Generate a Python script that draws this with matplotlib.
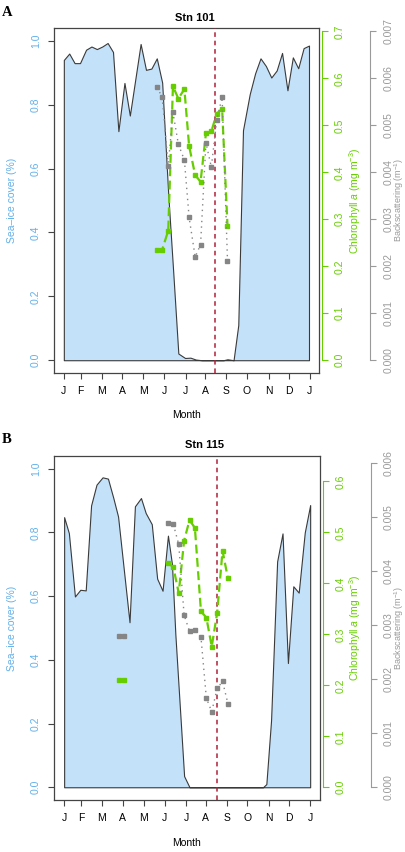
import numpy as np
import matplotlib.pyplot as plt

plt.rcParams['font.family'] = ['Liberation Sans', 'DejaVu Sans']
plt.rcParams['mathtext.fontset'] = 'custom'
plt.rcParams['mathtext.rm'] = 'Liberation Sans'
plt.rcParams['mathtext.it'] = 'Liberation Sans:italic'

# month ticks, as day of year
month_pos = [0, 25, 56, 87, 118, 149, 181, 210, 241, 272, 304, 334, 365]
month_lab = ['J', 'F', 'M', 'A', 'M', 'J', 'J', 'A', 'S', 'O', 'N', 'D', 'J']

# Stn 101
ice101_day = [0, 8, 16, 24, 33, 41, 49, 57, 65, 73, 81, 90, 98, 114, 122, 130, 138, 146, 155, 162,
              170, 180, 188, 196, 205, 213, 221, 229, 237, 243, 252, 259, 266, 276, 284, 292, 300, 308,
              316, 324, 332, 340, 348, 356, 364]
ice101 = [0.94, 0.96, 0.93, 0.93, 0.972, 0.982, 0.974, 0.982, 0.993, 0.965, 0.717, 0.868, 0.766, 0.99,
          0.909, 0.913, 0.945, 0.869, 0.52, 0.29, 0.021, 0.007, 0.008, 0.002, 0.0, 0.0, 0.0, 0.0, 0.0,
          0.003, 0.0, 0.11, 0.72, 0.833, 0.898, 0.945, 0.921, 0.885, 0.907, 0.962, 0.845, 0.948, 0.914,
          0.977, 0.985]
chl101_day = [138, 146, 155, 162, 170, 179, 186, 195, 203, 211, 219, 227, 235, 243]
chl101 = [0.235, 0.235, 0.276, 0.583, 0.557, 0.577, 0.456, 0.394, 0.380, 0.483, 0.487, 0.525, 0.535, 0.286]
bb101 = [0.00581, 0.00561, 0.00414, 0.00528, 0.00460, 0.00426, 0.00304, 0.00220, 0.00246, 0.00463,
         0.00411, 0.00511, 0.00560, 0.00212]
melt101 = 224

# Stn 115
ice115_day = [0, 7, 16, 24, 32, 40, 48, 57, 65, 73, 80, 97, 105, 114, 121, 130, 138, 146, 154, 160,
              165, 178, 186, 295, 300, 307, 316, 324, 332, 340, 348, 357, 365]
ice115 = [0.848, 0.798, 0.599, 0.62, 0.618, 0.885, 0.95, 0.973, 0.969, 0.908, 0.85, 0.518, 0.882, 0.908,
          0.861, 0.826, 0.655, 0.617, 0.79, 0.70, 0.48, 0.035, 0.0, 0.0, 0.01, 0.21, 0.709, 0.797, 0.39,
          0.631, 0.611, 0.80, 0.886]
chl115_day = [81, 89, 120, 154, 162, 170, 178, 186, 194, 203, 211, 219, 227, 235, 243]
chl115 = [0.211, 0.211, np.nan, 0.440, 0.432, 0.381, 0.484, 0.524, 0.509, 0.345, 0.333, 0.276, 0.342,
          0.464, 0.410]
bb115 = [0.0028, 0.0028, np.nan, 0.00489, 0.00487, 0.00450, 0.00319, 0.00289, 0.00292, 0.00278, 0.00165,
         0.00140, 0.00183, 0.00196, 0.00155]
melt115 = 227

ice_col = '#c4e1fa'
blue = '#62b0ea'
green = '#66cd00'
grey = '#858585'
lgrey = '#9a9a9a'
red = '#b0203a'

twins = []


def pad4(lo, hi):
    d = (hi - lo) * 0.04
    return lo - d, hi + d


def right_axis(ax, col, ymax, top, step, fmt, outward, tlen):
    a = ax.twinx()
    a.set_ylim(pad4(0, ymax))
    ticks = np.round(np.arange(0, top + 1e-9, step), 4)
    a.set_yticks(ticks)
    a.set_yticklabels([fmt % v for v in ticks])
    a.tick_params(axis='y', length=tlen, width=0.8, color=col, pad=5, labelsize=7.5,
                  labelcolor=col, labelrotation=90)
    for k in ['top', 'bottom', 'left']:
        a.spines[k].set_visible(False)
    a.spines['right'].set_position(('outward', outward))
    a.spines['right'].set_bounds(0, top)
    a.spines['right'].set_color(col)
    a.spines['right'].set_linewidth(0.8)
    twins.append(a)
    return a


def panel(rect, ice_day, ice, chl_day, chl, bb, melt, chl_max, chl_top, bb_max, bb_top):
    ax = fig.add_axes(rect)
    ax.fill_between(ice_day, ice, 0, facecolor=ice_col, edgecolor='#3a3a3a', lw=0.8, zorder=1)
    ax.axvline(melt, color=red, lw=1.1, ls=(0, (3, 2.5)), zorder=5)
    ax.set_xlim(pad4(0, 365))
    ax.set_ylim(pad4(0, 1))
    ax.set_xticks(month_pos)
    ax.set_xticklabels(month_lab, fontsize=7.5)
    yt = np.round(np.arange(0, 1.01, 0.2), 1)
    ax.set_yticks(yt)
    ax.set_yticklabels(['%.1f' % v for v in yt])
    ax.tick_params(length=4.5, width=0.8, color='#444444')
    ax.tick_params(axis='x', pad=5)
    ax.tick_params(axis='y', pad=5, labelsize=7.5, labelcolor=blue, labelrotation=90)
    for s in ax.spines.values():
        s.set_color('#444444')
        s.set_linewidth(0.9)
    twins.append(ax)

    ax2 = right_axis(ax, green, chl_max, chl_top, 0.1, '%.1f', 2, 4)
    ax2.plot(chl_day, chl, color=green, lw=1.6, ls=(0, (4, 2)), marker='s', ms=3, zorder=4)

    ax3 = right_axis(ax, lgrey, bb_max, bb_top, 0.001, '%.3f', 36.4, 4.5)
    ax3.plot(chl_day, bb, color=grey, lw=1.0, ls=(0, (1, 3)), marker='s', ms=3, zorder=3)
    return ax


fig = plt.figure(figsize=(4.06, 8.52), dpi=100)

H = 852.0
W = 406.0
# panel A
panel([54 / W, 1 - 373 / H, 265.5 / W, 345 / H], ice101_day, ice101, chl101_day, chl101,
      bb101, melt101, 0.68, 0.7, 0.0068, 0.007)
# panel B
panel([54.3 / W, 1 - 800 / H, 265.7 / W, 344 / H], ice115_day, ice115, chl115_day, chl115,
      bb115, melt115, 0.625, 0.6, 0.0059, 0.006)

for a in twins:
    for t in a.yaxis.get_major_ticks():
        t.label1.set_verticalalignment('center')
        t.label2.set_verticalalignment('center')

# titles, letters and axis labels
fig.text(195 / W, 1 - 18.3 / H, 'Stn 101', ha='center', va='center', fontsize=8, fontweight='bold')
fig.text(205 / W, 1 - 445 / H, 'Stn 115', ha='center', va='center', fontsize=8, fontweight='bold')
fig.text(7 / W, 1 - 12 / H, 'A', ha='center', va='center', fontsize=10.5, fontweight='bold',
         family='Liberation Serif')
fig.text(7 / W, 1 - 439.5 / H, 'B', ha='center', va='center', fontsize=10.5, fontweight='bold',
         family='Liberation Serif')
for yc, ym in [(200.5, 415), (628, 842.7)]:
    fig.text(12 / W, 1 - yc / H, 'Sea\u2013ice cover (%)', rotation=90, ha='center', va='center',
             fontsize=7.5, color=blue)
    fig.text(355 / W, 1 - yc / H, 'Chlorophyll $\\mathit{a}$ (mg m$^{-3}$)', rotation=90, ha='center',
             va='center', fontsize=7.5, color=green)
    fig.text(399.5 / W, 1 - yc / H, 'Backscattering (m$^{-1}$)', rotation=90, ha='center', va='center',
             fontsize=6.5, color=lgrey)
    fig.text(187 / W, 1 - ym / H, 'Month', ha='center', va='center', fontsize=7.5)

fig.savefig('out.png', dpi=100)
